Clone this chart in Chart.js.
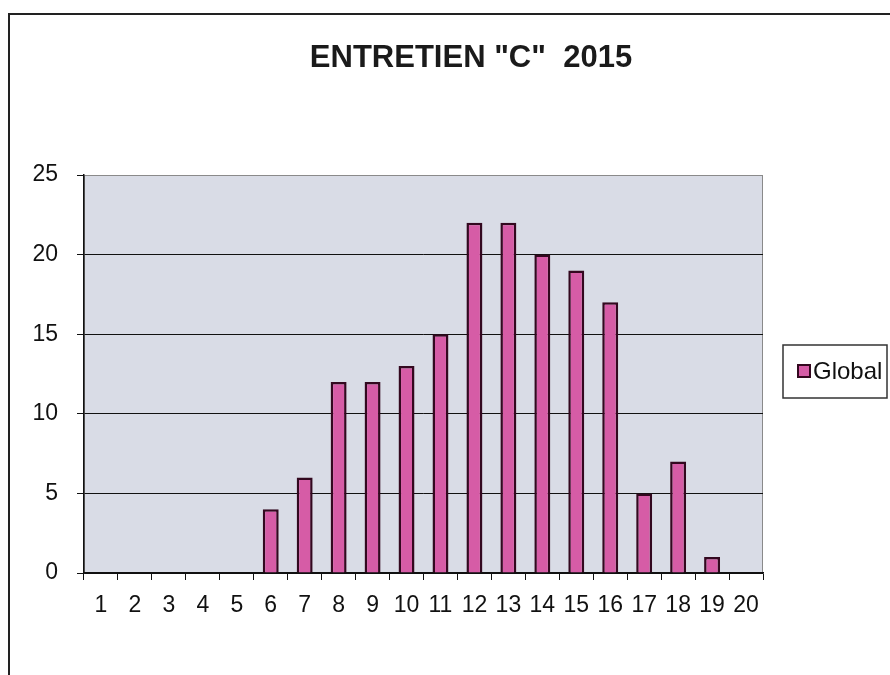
<!DOCTYPE html>
<html>
<head>
<meta charset="utf-8">
<script src="https://cdn.jsdelivr.net/npm/chart.js@4.4.0/dist/chart.umd.min.js"></script>
<style>
  html, body { margin: 0; padding: 0; background: #fff; }
  #wrap { width: 890px; height: 675px; position: relative; }
</style>
</head>
<body>
<div id="wrap"><canvas id="chart" width="890" height="675"></canvas></div>
<script>
const chartTitle = 'ENTRETIEN "C"  2015';
const categories = ["1", "2", "3", "4", "5", "6", "7", "8", "9", "10",
  "11", "12", "13", "14", "15", "16", "17", "18", "19", "20"];
const globalValues = [0, 0, 0, 0, 0, 4, 6, 12, 12, 13, 15, 22, 22, 20, 19, 17, 5, 7, 1, 0];
const yTicks = [0, 5, 10, 15, 20, 25];

const barFill = "#d65ca6";
const barEdge = "#33081f";

// frame, plot background, title and the boxed legend
const decor = {
  id: "decor",
  beforeDraw(chart) {
    const { ctx, chartArea: a } = chart;
    ctx.save();
    ctx.fillStyle = "#d9dce6";
    ctx.fillRect(a.left, a.top, a.right - a.left, a.bottom - a.top);
    ctx.strokeStyle = "#8a8a8a";
    ctx.lineWidth = 1;
    ctx.strokeRect(a.left + 0.5, a.top + 0.5, a.right - a.left - 1, a.bottom - a.top);
    ctx.strokeStyle = "#222";
    ctx.lineWidth = 2;
    ctx.beginPath();
    ctx.moveTo(9, 680);
    ctx.lineTo(9, 14);
    ctx.lineTo(895, 14);
    ctx.stroke();
    ctx.restore();
  },
  afterDraw(chart) {
    const { ctx } = chart;
    ctx.save();
    ctx.fillStyle = "#1a1a1a";
    ctx.font = "bold 31px 'Liberation Sans', Arial, sans-serif";
    ctx.textAlign = "center";
    ctx.textBaseline = "middle";
    ctx.fillText(chartTitle, 471, 58);

    // legend
    ctx.strokeStyle = "#333";
    ctx.lineWidth = 1.5;
    ctx.fillStyle = "#fff";
    ctx.fillRect(783, 345, 104, 53);
    ctx.strokeRect(783, 345, 104, 53);
    const ds = chart.data.datasets[0];
    ctx.fillStyle = ds.backgroundColor;
    ctx.fillRect(798, 365, 12, 12);
    ctx.strokeStyle = ds.borderColor;
    ctx.lineWidth = 2;
    ctx.strokeRect(798, 365, 12, 12);
    ctx.fillStyle = "#111";
    ctx.font = "24px 'Liberation Sans', Arial, sans-serif";
    ctx.textAlign = "left";
    ctx.fillText(ds.label, 813, 372);
    ctx.restore();
  }
};

new Chart(document.getElementById("chart"), {
  type: "bar",
  data: {
    labels: categories,
    datasets: [{
      label: "Global",
      data: globalValues,
      backgroundColor: barFill,
      borderColor: barEdge,
      borderWidth: 2.5,
      borderSkipped: "bottom",
      barPercentage: 0.47,
      categoryPercentage: 1
    }]
  },
  options: {
    responsive: false,
    animation: false,
    layout: { padding: { top: 175, right: 127, bottom: 42, left: 0 } },
    plugins: {
      legend: { display: false },
      title: { display: false },
      tooltip: { enabled: false }
    },
    scales: {
      x: {
        afterFit: (s) => { s.height = 60; },
        grid: {
          offset: true,
          drawOnChartArea: false,
          color: "#111",
          tickLength: 7
        },
        border: { color: "#111", width: 1.5 },
        ticks: {
          color: "#111",
          padding: 12,
          maxRotation: 0,
          autoSkip: false,
          font: { family: "'Liberation Sans', Arial, sans-serif", size: 23 }
        }
      },
      y: {
        min: 0,
        max: 25,
        afterFit: (s) => { s.width = 84; },
        afterBuildTicks: (s) => { s.ticks = yTicks.map(v => ({ value: v })); },
        grid: {
          color: (c) => c.tick && c.tick.value === 25 ? "#8a8a8a" : "#111",
          tickColor: "#111",
          tickLength: 7
        },
        border: { color: "#111", width: 1.5 },
        ticks: {
          color: "#111",
          padding: 19,
          font: { family: "'Liberation Sans', Arial, sans-serif", size: 23 }
        }
      }
    }
  },
  plugins: [decor]
});
</script>
</body>
</html>
